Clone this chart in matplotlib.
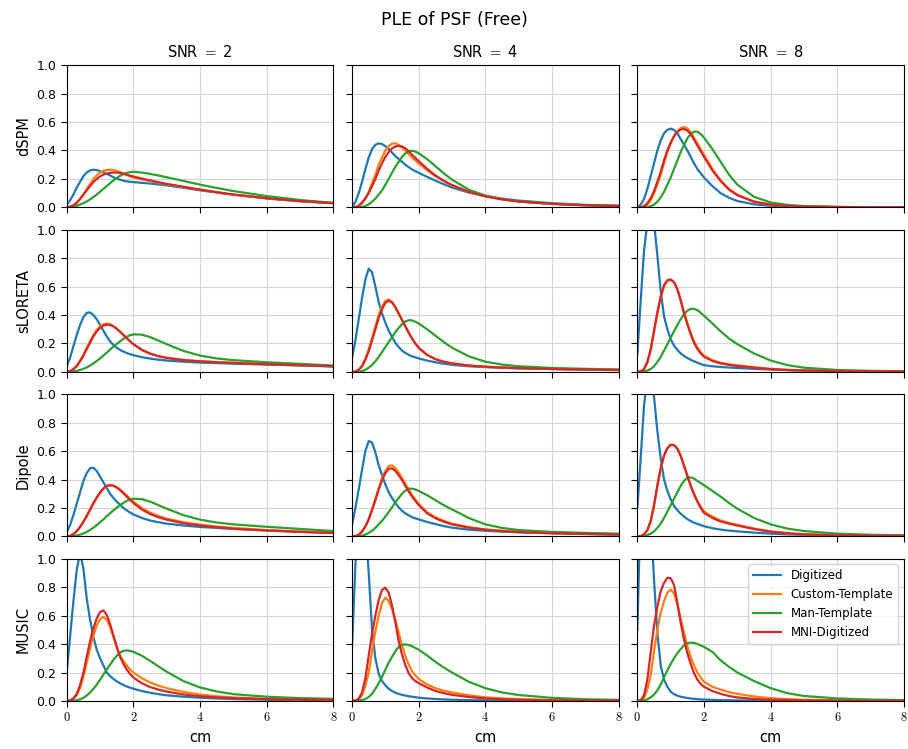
import matplotlib
matplotlib.use('Agg')
import matplotlib.pyplot as plt

plt.rcParams['mathtext.fontset'] = 'cm'

x_cm = [0, .1, .2, .3, .4, .5, .6, .7, .8, .9,
        1.0, 1.1, 1.2, 1.3, 1.4, 1.5, 1.6, 1.7, 1.8, 1.9,
        2.0, 2.25, 2.5, 2.75, 3.0, 3.5, 4.0, 4.5, 5.0, 6.0, 7.0, 8.0]

labels = ['Digitized', 'Custom-Template', 'Man-Template', 'MNI-Digitized']
colors = ['tab:blue', 'tab:orange', 'tab:green', 'tab:red']
methods = ['dSPM', 'sLORETA', 'Dipole', 'MUSIC']
snrs = [2, 4, 8]

# each panel: [Digitized, Custom-Template, Man-Template, MNI-Digitized]
dspm_2 = [
    [.02, .05, .09, .14, .18, .22, .245, .26, .265, .262,
     .255, .245, .235, .225, .212, .202, .195, .188, .183, .18,
     .178, .173, .168, .162, .155, .138, .12, .105, .09, .063, .043, .03],
    [0, .005, .015, .03, .06, .09, .13, .165, .2, .225,
     .245, .257, .263, .265, .262, .256, .248, .238, .228, .218,
     .21, .197, .186, .174, .163, .143, .125, .107, .09, .065, .045, .03],
    [0, .002, .006, .012, .02, .03, .042, .056, .072, .09,
     .11, .13, .15, .17, .19, .207, .222, .234, .243, .248,
     .25, .245, .236, .224, .212, .186, .16, .137, .115, .08, .052, .032],
    [0, .005, .015, .035, .06, .09, .12, .15, .178, .2,
     .218, .23, .238, .243, .245, .245, .242, .237, .23, .223,
     .217, .203, .19, .177, .165, .145, .125, .107, .09, .065, .045, .03],
]
dspm_4 = [
    [0, .04, .1, .18, .27, .35, .41, .44, .45, .445,
     .43, .41, .385, .36, .34, .32, .3, .283, .267, .255,
     .243, .215, .188, .163, .14, .105, .08, .062, .048, .03, .018, .012],
    [0, 0, .01, .03, .06, .11, .17, .23, .3, .35,
     .4, .43, .448, .45, .44, .42, .4, .375, .35, .33,
     .31, .26, .22, .185, .155, .11, .078, .057, .042, .025, .015, .01],
    [0, 0, .002, .005, .01, .022, .04, .062, .09, .12,
     .16, .2, .245, .285, .32, .355, .38, .395, .398, .392,
     .38, .34, .29, .24, .195, .125, .083, .058, .042, .025, .016, .01],
    [0, .003, .012, .035, .065, .1, .15, .2, .26, .31,
     .355, .39, .415, .428, .432, .428, .415, .395, .37, .348,
     .325, .272, .225, .188, .157, .11, .078, .057, .042, .025, .015, .01],
]
dspm_8 = [
    [0, .02, .06, .13, .22, .31, .4, .47, .52, .545,
     .553, .545, .52, .48, .44, .4, .355, .31, .27, .24,
     .21, .15, .1, .068, .045, .022, .012, .007, .004, .002, .001, 0],
    [0, 0, .005, .02, .05, .1, .16, .23, .31, .39,
     .45, .5, .535, .558, .565, .555, .53, .49, .45, .41,
     .37, .27, .19, .13, .09, .042, .02, .01, .006, .003, .001, 0],
    [0, 0, .001, .003, .008, .02, .04, .07, .11, .16,
     .21, .27, .33, .39, .44, .485, .515, .532, .532, .515,
     .49, .41, .32, .23, .16, .075, .035, .018, .01, .004, .002, .001],
    [0, .002, .01, .03, .065, .115, .18, .25, .33, .4,
     .455, .5, .53, .548, .55, .54, .515, .475, .435, .395,
     .355, .26, .185, .125, .085, .04, .019, .01, .006, .003, .001, 0],
]
sloreta_2 = [
    [.04, .1, .18, .26, .33, .385, .415, .418, .4, .37,
     .33, .29, .25, .215, .19, .17, .155, .143, .133, .125,
     .118, .104, .094, .086, .08, .072, .066, .062, .058, .052, .046, .038],
    [0, .005, .02, .045, .08, .12, .17, .215, .26, .295,
     .32, .335, .34, .335, .322, .305, .283, .26, .237, .215,
     .195, .157, .13, .112, .1, .085, .076, .07, .065, .056, .048, .04],
    [0, .001, .004, .008, .014, .022, .032, .045, .06, .077,
     .095, .115, .135, .157, .178, .197, .215, .232, .247, .258,
     .264, .262, .245, .22, .195, .148, .115, .095, .083, .068, .057, .045],
    [0, .005, .02, .04, .075, .115, .16, .205, .25, .285,
     .31, .325, .332, .33, .32, .303, .282, .26, .237, .215,
     .195, .155, .128, .11, .098, .083, .074, .068, .063, .054, .047, .04],
]
sloreta_4 = [
    [.1, .22, .37, .52, .65, .725, .7, .6, .49, .41,
     .345, .29, .245, .205, .175, .15, .133, .12, .11, .102,
     .095, .08, .068, .058, .05, .04, .034, .029, .025, .02, .016, .013],
    [0, .003, .015, .045, .095, .16, .24, .32, .4, .46,
     .5, .51, .49, .455, .41, .365, .32, .275, .235, .2,
     .17, .12, .09, .072, .06, .045, .037, .031, .027, .021, .017, .014],
    [0, 0, .002, .006, .015, .03, .05, .075, .105, .14,
     .175, .21, .245, .28, .31, .335, .355, .363, .362, .352,
     .34, .3, .255, .21, .17, .11, .072, .052, .04, .028, .022, .017],
    [0, .003, .015, .04, .085, .145, .22, .3, .38, .44,
     .485, .5, .488, .455, .41, .365, .32, .275, .235, .2,
     .17, .12, .09, .072, .06, .045, .037, .031, .027, .021, .017, .014],
]
sloreta_8 = [
    [.13, .5, .85, 1.05, 1.12, 1.05, .82, .57, .39, .3,
     .23, .185, .155, .13, .112, .098, .085, .075, .065, .056,
     .048, .04, .035, .031, .028, .022, .017, .013, .01, .006, .004, .003],
    [0, .004, .018, .065, .15, .28, .41, .52, .6, .64,
     .645, .63, .585, .51, .42, .345, .275, .215, .172, .14,
     .115, .082, .065, .054, .047, .033, .022, .015, .011, .006, .004, .003],
    [0, .001, .004, .01, .02, .04, .07, .105, .15, .195,
     .24, .285, .33, .37, .405, .43, .443, .443, .435, .415,
     .395, .34, .285, .235, .195, .13, .08, .048, .03, .014, .008, .005],
    [0, .005, .02, .07, .16, .29, .42, .53, .61, .645,
     .65, .63, .58, .5, .41, .335, .265, .205, .162, .13,
     .107, .077, .06, .05, .042, .03, .02, .014, .01, .006, .004, .003],
]
dipole_2 = [
    [.03, .08, .15, .23, .31, .39, .445, .48, .482, .46,
     .42, .38, .34, .3, .27, .245, .222, .2, .183, .168,
     .155, .13, .112, .1, .09, .077, .067, .06, .053, .042, .033, .025],
    [0, .004, .015, .035, .065, .1, .14, .185, .23, .27,
     .305, .335, .352, .36, .357, .347, .33, .31, .288, .265,
     .245, .2, .168, .143, .125, .1, .083, .07, .06, .045, .035, .027],
    [0, .001, .003, .007, .013, .021, .032, .046, .062, .08,
     .1, .12, .142, .163, .183, .202, .22, .236, .25, .26,
     .265, .262, .245, .22, .195, .15, .118, .098, .085, .068, .053, .038],
    [0, .005, .017, .038, .068, .105, .145, .19, .235, .275,
     .31, .338, .355, .36, .356, .343, .325, .303, .28, .257,
     .235, .19, .158, .135, .118, .093, .077, .065, .055, .042, .032, .024],
]
dipole_4 = [
    [.08, .2, .33, .47, .6, .67, .66, .59, .5, .43,
     .365, .31, .27, .235, .205, .18, .162, .148, .136, .127,
     .12, .102, .087, .073, .062, .048, .04, .034, .029, .022, .017, .013],
    [0, .003, .012, .035, .07, .12, .19, .265, .34, .41,
     .46, .495, .5, .48, .45, .41, .37, .33, .29, .26,
     .23, .17, .135, .11, .09, .065, .05, .04, .033, .025, .019, .015],
    [0, 0, .002, .006, .013, .025, .04, .06, .085, .11,
     .14, .172, .205, .24, .27, .3, .322, .335, .336, .33,
     .32, .29, .255, .22, .19, .13, .085, .06, .045, .032, .025, .02],
    [0, .003, .012, .035, .07, .12, .185, .255, .33, .395,
     .445, .475, .478, .46, .43, .395, .355, .315, .28, .25,
     .22, .163, .128, .104, .085, .062, .047, .038, .031, .023, .018, .014],
]
dipole_8 = [
    [.2, .55, .92, 1.12, 1.15, .98, .74, .55, .4, .32,
     .26, .215, .185, .16, .14, .122, .108, .097, .088, .08,
     .072, .058, .048, .041, .036, .027, .02, .015, .012, .008, .005, .004],
    [0, .003, .014, .042, .105, .21, .35, .47, .565, .62,
     .645, .643, .62, .57, .5, .43, .36, .3, .25, .21,
     .175, .14, .112, .095, .082, .056, .036, .024, .016, .008, .005, .004],
    [0, .001, .004, .01, .02, .035, .06, .09, .13, .175,
     .22, .265, .31, .355, .39, .413, .415, .407, .39, .375,
     .36, .32, .28, .235, .195, .13, .085, .055, .038, .02, .012, .008],
    [0, .003, .015, .045, .11, .22, .36, .48, .57, .62,
     .643, .64, .615, .565, .495, .425, .355, .295, .245, .2,
     .165, .13, .105, .09, .077, .052, .033, .022, .015, .008, .005, .004],
]
music_2 = [
    [.2, .45, .7, .92, 1.04, .93, .72, .57, .45, .36,
     .3, .25, .2, .175, .155, .138, .124, .112, .102, .094,
     .086, .07, .058, .048, .04, .03, .023, .018, .014, .009, .006, .004],
    [0, .003, .015, .04, .09, .17, .27, .37, .46, .53,
     .575, .59, .57, .52, .45, .38, .32, .28, .25, .22,
     .2, .16, .13, .108, .09, .064, .045, .033, .025, .015, .011, .008],
    [0, 0, .002, .005, .012, .022, .038, .06, .085, .115,
     .148, .185, .22, .255, .288, .318, .34, .352, .355, .352,
     .345, .318, .282, .243, .205, .14, .095, .067, .048, .03, .02, .015],
    [0, .004, .018, .05, .11, .2, .31, .42, .51, .58,
     .625, .635, .605, .54, .46, .38, .31, .26, .22, .19,
     .165, .125, .098, .08, .066, .046, .033, .025, .02, .013, .01, .008],
]
music_4 = [
    [.39, .95, 1.35, 1.45, 1.25, .9, .5, .3, .19, .14,
     .11, .085, .07, .058, .05, .043, .038, .033, .03, .026,
     .023, .018, .014, .011, .009, .006, .004, .003, .002, .001, .001, 0],
    [0, .002, .01, .04, .11, .2, .35, .49, .6, .69,
     .725, .7, .645, .57, .48, .39, .315, .255, .21, .18,
     .155, .115, .09, .072, .06, .04, .026, .018, .013, .007, .004, .003],
    [0, 0, .002, .006, .014, .028, .05, .085, .125, .17,
     .22, .27, .31, .35, .38, .395, .397, .393, .385, .372,
     .36, .32, .275, .235, .2, .135, .09, .06, .042, .022, .012, .008],
    [0, .003, .015, .06, .16, .32, .47, .6, .71, .78,
     .795, .76, .67, .55, .42, .325, .25, .195, .16, .14,
     .125, .095, .07, .055, .043, .028, .018, .012, .009, .005, .003, .002],
]
music_8 = [
    [.5, 1.4, 1.8, 1.7, 1.3, .85, .48, .25, .15, .1,
     .065, .048, .037, .03, .025, .021, .018, .015, .013, .011,
     .01, .008, .006, .005, .004, .003, .002, .001, .001, 0, 0, 0],
    [0, .003, .02, .08, .18, .35, .5, .62, .7, .76,
     .783, .755, .675, .58, .48, .385, .31, .25, .2, .165,
     .135, .1, .08, .062, .05, .032, .02, .013, .009, .005, .003, .002],
    [0, .001, .004, .012, .025, .045, .075, .115, .165, .215,
     .26, .3, .335, .365, .39, .405, .41, .408, .4, .39,
     .38, .345, .285, .24, .2, .14, .09, .055, .035, .018, .01, .006],
    [0, .005, .04, .15, .34, .53, .66, .77, .83, .865,
     .862, .815, .69, .55, .43, .335, .26, .195, .15, .12,
     .1, .07, .05, .035, .025, .014, .009, .006, .004, .002, .001, .001],
]

panels = [
    [dspm_2, dspm_4, dspm_8],
    [sloreta_2, sloreta_4, sloreta_8],
    [dipole_2, dipole_4, dipole_8],
    [music_2, music_4, music_8],
]

fig, axes = plt.subplots(4, 3, figsize=(9.08, 7.49), dpi=100,
                         sharex=True, sharey=True)
fig.subplots_adjust(left=0.0735, right=0.9956, top=0.9132, bottom=0.0641,
                    wspace=0.07, hspace=0.155)

for i, method in enumerate(methods):
    for j, snr in enumerate(snrs):
        ax = axes[i, j]
        for curve, lab, col in zip(panels[i][j], labels, colors):
            ax.plot(x_cm, curve, color=col, lw=1.6, label=lab)
        ax.set_xlim(0, 8)
        ax.set_ylim(0, 1)
        ax.set_xticks([0, 2, 4, 6, 8])
        ax.set_yticks([0, 0.2, 0.4, 0.6, 0.8, 1.0])
        ax.grid(True, color='#d6d6d6', lw=0.8)
        ax.tick_params(labelsize=9, length=4)
        if i == 0:
            ax.set_title('SNR $=$ %d' % snr, fontsize=10.5)
        if j == 0:
            ax.set_ylabel(method, fontsize=10.5)
        if i == 3:
            ax.set_xlabel('cm', fontsize=10.5)
            ax.set_xticklabels(['$%d$' % t for t in [0, 2, 4, 6, 8]])

axes[3, 2].legend(loc='upper right', fontsize=8.5, handlelength=2.4)
fig.suptitle('PLE of PSF (Free)', fontsize=12.5, y=0.985)

plt.savefig('out.png', dpi=100)
